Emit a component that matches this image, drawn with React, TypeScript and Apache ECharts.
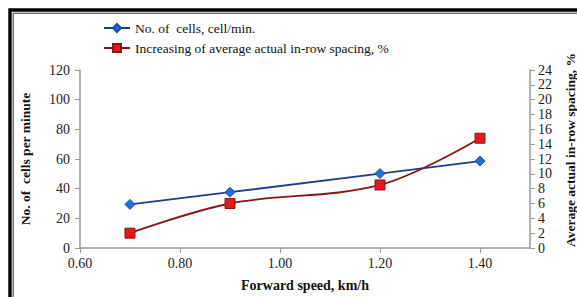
import React, { useEffect, useRef } from "react";
import * as echarts from "echarts";

const speeds = [0.7, 0.9, 1.2, 1.4];
const cellsPerMin = [29.4, 37.6, 50.2, 58.6];
const spacingIncrease = [2.0, 6.0, 8.5, 14.8];
const seriesNames = ["No. of  cells, cell/min.", "Increasing of average actual in-row spacing, %"];

const FONT = "'Liberation Serif', 'Times New Roman', serif";

export default function App() {
  const ref = useRef<HTMLDivElement>(null);
  useEffect(() => {
    if (!ref.current) return;
    const chart = echarts.init(ref.current, null, { renderer: "svg" });
    chart.setOption({
      animation: false,
      backgroundColor: "#fff",
      textStyle: { fontFamily: FONT },
      grid: { left: 80, right: 47, top: 70, bottom: 46, containLabel: false },
      legend: {
        orient: "vertical",
        left: 98,
        top: 16,
        itemGap: 6,
        itemWidth: 26,
        itemHeight: 10,
        textStyle: { fontFamily: FONT, fontSize: 13.5, color: "#111" },
        data: seriesNames,
      },
      xAxis: {
        type: "value",
        min: 0.6,
        max: 1.5,
        interval: 0.2,
        name: "Forward speed, km/h",
        nameLocation: "middle",
        nameGap: 30,
        nameTextStyle: { fontFamily: FONT, fontSize: 14, fontWeight: "bold", color: "#111" },
        axisLine: { lineStyle: { color: "#9a9a9a", width: 1.5 } },
        axisTick: { show: true, length: 5, lineStyle: { color: "#9a9a9a" } },
        axisLabel: {
          showMaxLabel: false,
          fontFamily: FONT,
          fontSize: 14,
          color: "#222",
          margin: 8,
          formatter: (v: number) => v.toFixed(2),
        },
        splitLine: { show: false },
      },
      yAxis: [
        {
          type: "value",
          min: 0,
          max: 120,
          interval: 20,
          name: "No. of  cells per minute",
          nameLocation: "middle",
          nameGap: 48,
          nameRotate: 90,
          nameTextStyle: { fontFamily: FONT, fontSize: 13.5, fontWeight: "bold", color: "#111" },
          axisLine: { show: true, lineStyle: { color: "#9a9a9a", width: 1.5 } },
          axisTick: { show: true, length: 5, lineStyle: { color: "#9a9a9a" } },
          axisLabel: { fontFamily: FONT, fontSize: 14, color: "#222", margin: 10 },
          splitLine: { show: false },
        },
        {
          type: "value",
          min: 0,
          max: 24,
          interval: 2,
          position: "right",
          axisLine: { show: true, lineStyle: { color: "#9a9a9a", width: 1.5 } },
          axisTick: { show: true, length: 5, lineStyle: { color: "#9a9a9a" } },
          axisLabel: { fontFamily: FONT, fontSize: 14, color: "#222", margin: 8, lineHeight: 10 },
          splitLine: { show: false },
        },
      ],
      series: [
        {
          name: seriesNames[0],
          type: "line",
          yAxisIndex: 0,
          data: speeds.map((s, i) => [s, cellsPerMin[i]]),
          symbol: "diamond",
          symbolSize: 10,
          lineStyle: { color: "#1c3f8f", width: 1.8 },
          itemStyle: { color: "#1f6fd6", borderColor: "#1c4fa0", borderWidth: 1 },
        },
        {
          name: seriesNames[1],
          type: "line",
          yAxisIndex: 1,
          smooth: 0.35,
          data: speeds.map((s, i) => [s, spacingIncrease[i]]),
          symbol: "rect",
          symbolSize: 10,
          lineStyle: { color: "#8b1416", width: 1.8 },
          itemStyle: { color: "#e3191c", borderColor: "#8b1416", borderWidth: 1 },
        },
      ],
      graphic: [
        {
          type: "rect",
          shape: { x: 10, y: 10, width: 620, height: 330 },
          style: { fill: "none", stroke: "#000", lineWidth: 3.4 },
          silent: true,
        },
        {
          type: "rect",
          shape: { x: 13.2, y: 13.2, width: 620, height: 330 },
          style: { fill: "none", stroke: "#333", lineWidth: 1 },
          silent: true,
        },
        {
          type: "text",
          x: 570,
          y: 150,
          rotation: Math.PI / 2,
          style: {
            text: "Average actual in-row spacing, %",
            fontFamily: FONT,
            fontSize: 13.5,
            fontWeight: "bold",
            fill: "#111",
            align: "center",
            verticalAlign: "middle",
          },
        },
      ],
    });
    return () => chart.dispose();
  }, []);
  return <div ref={ref} style={{ position: "absolute", left: 0, top: 0, width: 577, height: 297 }} />;
}
